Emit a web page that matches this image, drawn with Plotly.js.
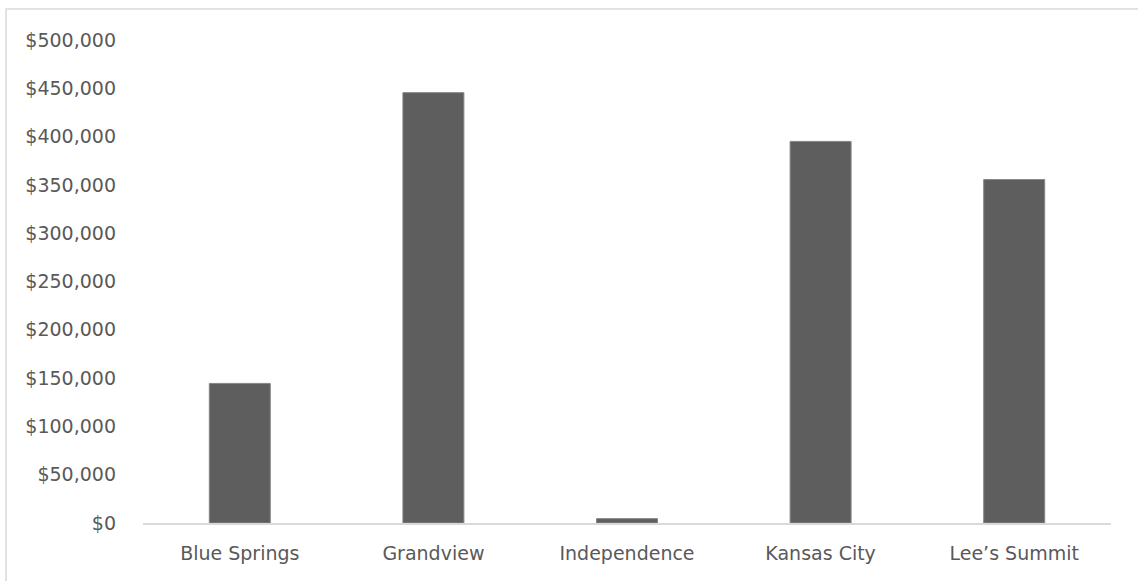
<!DOCTYPE html>
<html>
<head>
<meta charset="utf-8">
<script src="https://cdn.plot.ly/plotly-3.0.1.min.js"></script>
<style>
  html, body { margin: 0; padding: 0; background: #ffffff; }
  #chart { width: 1138px; height: 581px; }
</style>
</head>
<body>
<div id="chart"></div>
<script>
// Cities and the dollar amount for each
const cities = ["Blue Springs", "Grandview", "Independence", "Kansas City", "Lee\u2019s Summit"];
const amounts = [144500, 445500, 4500, 395000, 355500];

// Y-axis ticks
const tickValues = [0, 50000, 100000, 150000, 200000, 250000, 300000, 350000, 400000, 450000, 500000];
const tickLabels = ["$0", "$50,000", "$100,000", "$150,000", "$200,000", "$250,000",
                    "$300,000", "$350,000", "$400,000", "$450,000", "$500,000"];

const textColor = "#595959";
const fontFamily = "'DejaVu Sans', sans-serif";

const trace = {
  type: "bar",
  x: cities,
  y: amounts,
  marker: { color: "#5e5e5e", line: { color: "#858585", width: 1 } },
  hoverinfo: "none"
};

const layout = {
  width: 1138,
  height: 581,
  margin: { l: 143, r: 27, t: 40, b: 58 },
  paper_bgcolor: "#ffffff",
  plot_bgcolor: "#ffffff",
  bargap: 0.685,
  showlegend: false,
  font: { family: fontFamily, size: 19, color: textColor },
  xaxis: {
    type: "category",
    showgrid: false,
    zeroline: false,
    showline: true,
    linecolor: "#d9d9d9",
    linewidth: 1.5,
    ticks: "",
    ticklabelstandoff: 13,
    tickfont: { family: fontFamily, size: 19, color: textColor },
    fixedrange: true
  },
  yaxis: {
    range: [0, 500000],
    tickvals: tickValues,
    ticktext: tickLabels,
    showgrid: false,
    zeroline: false,
    showline: false,
    ticks: "",
    ticklabelstandoff: 26,
    tickfont: { family: fontFamily, size: 19, color: textColor },
    fixedrange: true
  },
  shapes: [
    {
      // chart frame, running off the right and bottom edges
      type: "rect",
      xref: "paper", yref: "paper",
      x0: -0.1415, x1: 1.05,
      y0: -0.15, y1: 1.0642,
      line: { color: "#d9d9d9", width: 1.5 },
      fillcolor: "rgba(0,0,0,0)",
      layer: "below"
    }
  ]
};

Plotly.newPlot("chart", [trace], layout, { displayModeBar: false, staticPlot: true });
</script>
</body>
</html>
